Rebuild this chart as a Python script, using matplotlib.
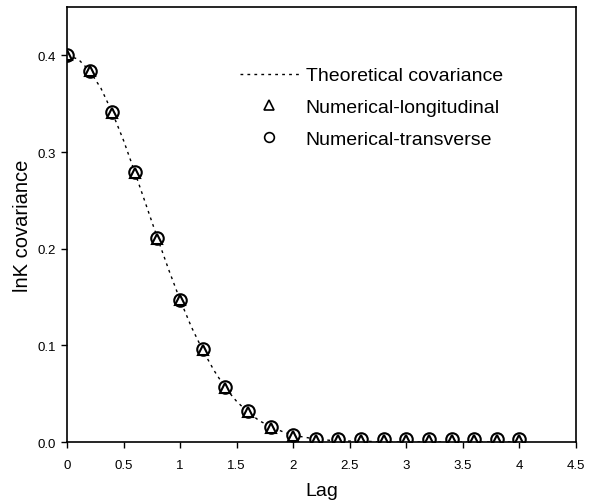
import matplotlib.pyplot as plt
from matplotlib.lines import Line2D

plt.rcParams['font.family'] = ['Liberation Sans', 'DejaVu Sans']

# theoretical curve
theory_lag = [0.0, 0.1, 0.2, 0.3, 0.4, 0.5, 0.6, 0.7, 0.8, 0.9, 1.0,
              1.1, 1.2, 1.3, 1.4, 1.5, 1.6, 1.7, 1.8, 1.9, 2.0,
              2.1, 2.2, 2.3, 2.4, 2.6, 2.8, 3.0, 3.2, 3.4, 3.6, 3.8, 4.0]
theory_cov = [0.400, 0.396, 0.384, 0.366, 0.341, 0.312, 0.279, 0.245, 0.211, 0.178, 0.147,
              0.119, 0.095, 0.074, 0.056, 0.042, 0.031, 0.022, 0.016, 0.011, 0.007,
              0.005, 0.003, 0.002, 0.001, 0.001, 0.0, 0.0, 0.0, 0.0, 0.0, 0.0, 0.0]

# numerical results
num_lag = [0.0, 0.2, 0.4, 0.6, 0.8, 1.0, 1.2, 1.4, 1.6, 1.8, 2.0,
           2.2, 2.4, 2.6, 2.8, 3.0, 3.2, 3.4, 3.6, 3.8, 4.0]
longitudinal = [0.400, 0.384, 0.340, 0.278, 0.210, 0.147, 0.095, 0.056, 0.031, 0.015, 0.006,
                0.002, 0.002, 0.002, 0.002, 0.002, 0.002, 0.002, 0.002, 0.002, 0.002]
transverse = [0.400, 0.384, 0.341, 0.279, 0.211, 0.147, 0.096, 0.057, 0.032, 0.016, 0.007,
              0.003, 0.003, 0.003, 0.003, 0.003, 0.003, 0.003, 0.003, 0.003, 0.003]

fig = plt.figure(figsize=(5.96, 5.02), dpi=100)
ax = fig.add_axes([0.1124, 0.1175, 0.854, 0.8665])

ax.plot(theory_lag, theory_cov, color='black', lw=1.0, ls=(0, (2, 3)))
ax.plot(num_lag, transverse, ls='none', marker='o', ms=9, mfc='white', mec='black', mew=1.5)
ax.plot(num_lag, longitudinal, ls='none', marker='^', ms=7, mfc='white', mec='black', mew=1.5)

ax.set_xlim(0, 4.5)
ax.set_ylim(0, 0.45)
ax.set_xticks([0, 0.5, 1, 1.5, 2, 2.5, 3, 3.5, 4, 4.5])
ax.set_xticklabels(['0', '0.5', '1', '1.5', '2', '2.5', '3', '3.5', '4', '4.5'])
ax.set_yticks([0.0, 0.1, 0.2, 0.3, 0.4])
ax.set_yticklabels(['0.0', '0.1', '0.2', '0.3', '0.4'])
ax.tick_params(direction='out', length=4, width=1, labelsize=9.5)
ax.tick_params(axis='x', pad=8)
ax.tick_params(axis='y', pad=4)
for s in ax.spines.values():
    s.set_linewidth(1.2)

ax.set_xlabel('Lag', fontsize=14, labelpad=8)
ax.set_ylabel('lnK covariance', fontsize=14.5, labelpad=4)

handles = [
    Line2D([], [], color='black', lw=1.0, ls=(0, (2, 3))),
    Line2D([], [], ls='none', marker='^', ms=7, mfc='white', mec='black', mew=1.2),
    Line2D([], [], ls='none', marker='o', ms=7, mfc='white', mec='black', mew=1.2),
]
ax.legend(handles, ['Theoretical covariance', 'Numerical-longitudinal', 'Numerical-transverse'],
          loc='upper left', bbox_to_anchor=(0.306, 0.903), frameon=False, fontsize=14,
          handlelength=3.0, handletextpad=0.36, labelspacing=0.72, borderpad=0.4)

fig.savefig('out.png', dpi=100)
